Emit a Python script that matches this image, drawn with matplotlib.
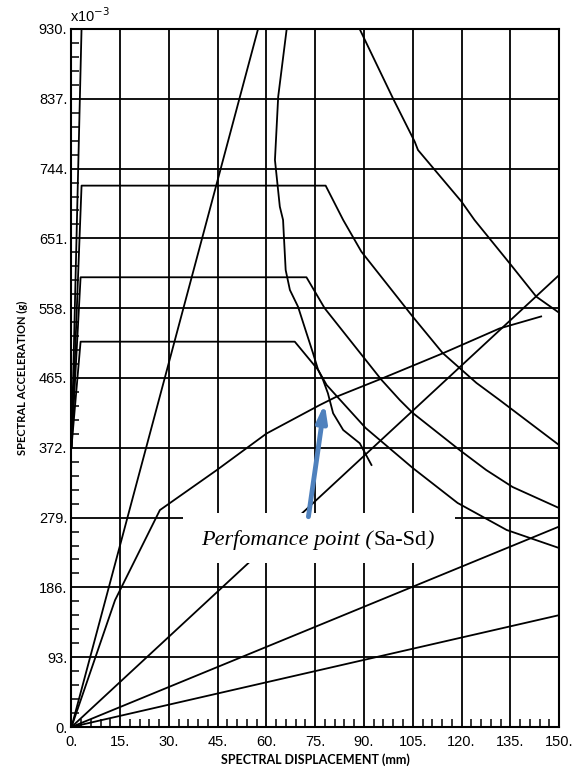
import numpy as np
import matplotlib
matplotlib.use("Agg")
import matplotlib.pyplot as plt
from matplotlib.ticker import MultipleLocator
from matplotlib.patches import Rectangle

# --- values (Sd in mm, Sa in 1e-3 g) ---
x_ticks = [0, 15, 30, 45, 60, 75, 90, 105, 120, 135, 150]
y_ticks = [0, 93, 186, 279, 372, 465, 558, 651, 744, 837, 930]

# demand spectra (one per damping level)
sd_A = [0, 3.26, 85.3, 88.7, 98.9, 105.6, 106.6, 120.0, 124.0, 134.8, 143.0, 150.0]
sa_A = [373, 960, 960, 929.6, 837.7, 779.9, 768.8, 700.0, 675.5, 617.9, 573.4, 552.0]
sd_B = [0, 3.1, 78.2, 83.6, 89.2, 105.0, 114.2, 124.6, 131.7, 150.0]
sa_B = [373, 721.3, 721.3, 675.5, 633.3, 546.7, 498.3, 458.4, 435.7, 375.7]
sd_C = [0, 2.8, 72.3, 77.9, 95.4, 101.0, 105.0, 119.4, 127.6, 135.7, 150.0]
sa_C = [373, 599.2, 599.2, 557.9, 462.4, 435.7, 418.4, 369.1, 342.4, 319.8, 291.8]
sd_D = [0, 2.8, 68.7, 75.9, 78.5, 90.5, 105.0, 118.8, 133.9, 150.0]
sa_D = [373, 513.4, 513.4, 475.7, 455.7, 398.4, 345.1, 298.5, 262.5, 238.5]

# demand with variable damping (locus through the performance point)
sd_var = [66.2, 63.6, 62.6, 64.1, 65.1, 65.3, 65.9, 67.2, 69.7, 72.3, 74.3,
          75.9, 77.4, 78.9, 80.5, 83.6, 88.7, 92.3]
sa_var = [929.6, 839.8, 755.5, 693.3, 675.5, 658.2, 608.9, 582.3, 560.0, 525.0,
          498.3, 475.7, 462.4, 444.6, 418.0, 395.7, 378.0, 349.1]

# capacity curve
sd_cap = [0, 13.4, 27.2, 44.6, 60.0, 76.4, 81.5, 95.9, 114.3, 131.7, 144.5]
sa_cap = [0, 169, 289, 342, 391, 429, 440, 465, 498, 531, 547]

# constant-period radial lines: end points (start at the origin)
sd_period = [57.4, 150.0, 150.0, 150.0]
sa_period = [930.0, 602.0, 267.0, 149.0]

# performance point arrow (tail -> head)
pp_tail = (72.9, 280.2)
pp_head = (77.9, 431.2)

# ---------------------------------------------------------------- figure ---
fig = plt.figure(figsize=(5.76, 7.73), dpi=100)
ax = fig.add_axes([0.1241, 0.0595, 0.8464, 0.9030])

LW = 1.3
for sd, sa in ((sd_A, sa_A), (sd_B, sa_B), (sd_C, sa_C), (sd_D, sa_D),
               (sd_var, sa_var), (sd_cap, sa_cap)):
    ax.plot(sd, sa, "k-", lw=LW, zorder=2)
for x1, y1 in zip(sd_period, sa_period):
    ax.plot([0, x1], [0, y1], "k-", lw=LW, zorder=2)

ax.set_xlim(0, 150)
ax.set_ylim(0, 930)
ax.set_xticks(x_ticks)
ax.set_yticks(y_ticks)
ax.set_xticklabels([f"{v}." for v in x_ticks])
ax.set_yticklabels([f"{v}." for v in y_ticks])
ax.xaxis.set_minor_locator(MultipleLocator(3))
ax.yaxis.set_minor_locator(MultipleLocator(18.6))
ax.grid(True, which="major", color="k", lw=1.3)
ax.tick_params(which="major", length=0, labelsize=10.5, colors="k")
ax.tick_params(axis="x", which="major", pad=6)
ax.tick_params(axis="y", which="major", pad=3)
ax.tick_params(which="minor", direction="in", length=6, width=1.1,
               top=False, right=False)
for lab in ax.get_xticklabels() + ax.get_yticklabels():
    lab.set_family("Liberation Sans")
for s in ax.spines.values():
    s.set_linewidth(1.5)

ax.text(-0.004, 1.006, r"x10$^{-3}$", transform=ax.transAxes, ha="left",
        va="bottom", fontsize=10.5, family="Liberation Sans")

lab_font = dict(family=["Lato", "DejaVu Sans"], weight="bold")
ax.set_xlabel("SPECTRAL DISPLACEMENT (mm)", fontsize=9, labelpad=3,
              **lab_font)
ax.set_ylabel("SPECTRAL ACCELERATION (g)", fontsize=8, labelpad=8,
              **lab_font)

# annotation box (white, covers grid) with mixed-style text
ax.add_patch(Rectangle((34.3, 218.5), 83.6, 66.6, facecolor="white",
                       edgecolor="none", zorder=3))
t1 = ax.text(40.0, 242.5, "Perfomance point (", style="italic",
             family="Liberation Serif", fontsize=16, va="baseline",
             zorder=4)
t2 = ax.annotate("Sa-Sd", xy=(1, 0), xycoords=t1, va="bottom", ha="left",
                 family="Liberation Serif", fontsize=16, zorder=4)
ax.annotate(")", xy=(1, 0), xycoords=t2, va="bottom", ha="left",
            style="italic", family="Liberation Serif", fontsize=16, zorder=4)

ax.annotate("", xy=pp_head, xytext=pp_tail,
            arrowprops=dict(arrowstyle="-|>,head_width=0.3,head_length=1.0",
                            lw=3.5, color="#4F81BD", shrinkA=0, shrinkB=0),
            zorder=5)

fig.savefig("out.png", dpi=100)
